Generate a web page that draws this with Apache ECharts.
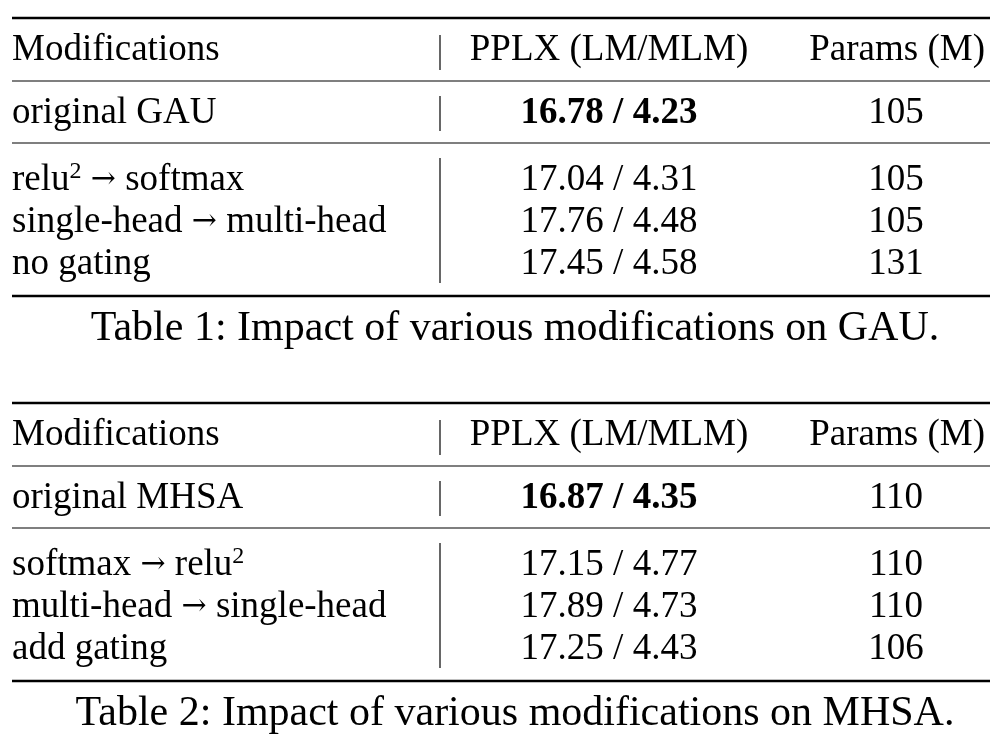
<!DOCTYPE html>
<html><head><meta charset="utf-8">
<script src="https://cdn.jsdelivr.net/npm/echarts@6/dist/echarts.min.js"></script>
<style>html,body{margin:0;background:#fff}#c{width:1004px;height:748px}</style>
</head><body><div id="c"></div>
<script>
var headers = ['Modifications', 'PPLX (LM/MLM)', 'Params (M)']
var t1Base = ['original GAU', '16.78 / 4.23', '105']
var t1Rows = [
  ['relu{sup|2} {ar|→} softmax', '17.04 / 4.31', '105'],
  ['single-head {ar|→} multi-head', '17.76 / 4.48', '105'],
  ['no gating', '17.45 / 4.58', '131']
]
var t2Base = ['original MHSA', '16.87 / 4.35', '110']
var t2Rows = [
  ['softmax {ar|→} relu{sup|2}', '17.15 / 4.77', '110'],
  ['multi-head {ar|→} single-head', '17.89 / 4.73', '110'],
  ['add gating', '17.25 / 4.43', '106']
]
var captions = ['Table 1: Impact of various modifications on GAU.', 'Table 2: Impact of various modifications on MHSA.']

var FONT = '"Liberation Serif", "DejaVu Serif", serif'
var FS = 37
var g = []
function txt(s, x, y, align, bold, size) {
  g.push({
    type: 'text', x: x, y: y,
    style: {
      text: s, x: 0, y: 0, align: align, verticalAlign: 'middle',
      font: (bold ? 'bold ' : '') + (size || FS) + 'px ' + FONT, fill: '#000',
      rich: {
        sup: { fontSize: 24, verticalAlign: 'top', padding: [0, 0, 16, 0], fontFamily: FONT, fill: '#000' },
        ar: { fontSize: 30, fontFamily: '"DejaVu Serif"', fill: '#000' }
      }
    }
  })
}
function hline(y, w) {
  g.push({ type: 'line', shape: { x1: 12, y1: y, x2: 990, y2: y }, style: { stroke: '#000', lineWidth: w } })
}
function vline(y1, y2) {
  g.push({ type: 'line', shape: { x1: 440, y1: y1, x2: 440, y2: y2 }, style: { stroke: '#000', lineWidth: 1.2 } })
}
function row(r, y, bold) {
  txt(r[0], 12, y, 'left')
  txt(r[1], 609, y, 'center', bold)
  txt(r[2], 896, y, 'center')
}
function table(top, base, rows, cap) {
  hline(top, 2.5)
  txt(headers[0], 12, top + 32, 'left')
  txt(headers[1], 609, top + 32, 'center')
  txt(headers[2], 985, top + 32, 'right')
  vline(top + 17, top + 52)
  hline(top + 63, 1.2)
  row(base, top + 95, true)
  vline(top + 78, top + 113)
  hline(top + 125, 1.2)
  rows.forEach(function (r, i) { row(r, top + 162 + i * 42) })
  vline(top + 140, top + 265)
  hline(top + 278, 2.5)
  txt(cap, 515, top + 311, 'center', false, 42)
}
table(18, t1Base, t1Rows, captions[0])
table(403, t2Base, t2Rows, captions[1])

var myChart = echarts.init(document.getElementById('c'))
myChart.setOption({ animation: false, graphic: g })
</script></body></html>
